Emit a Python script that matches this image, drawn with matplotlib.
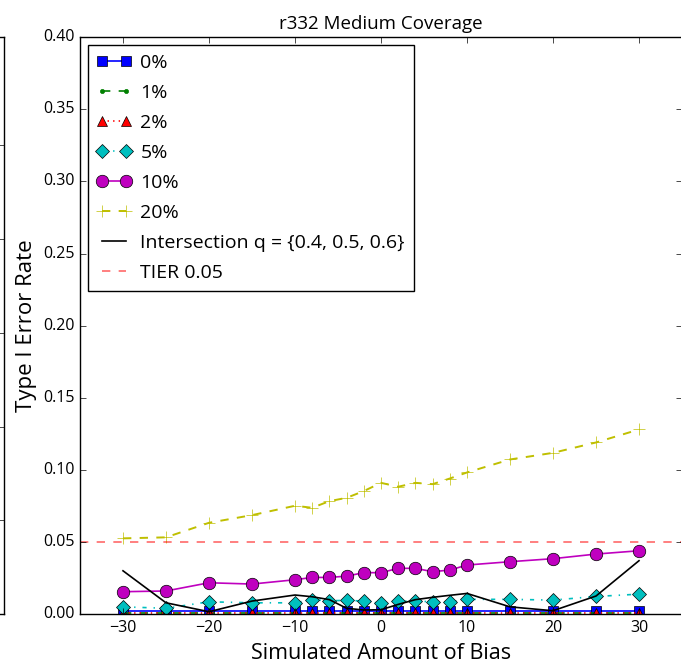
import matplotlib
matplotlib.use("Agg")
import matplotlib.pyplot as plt

plt.style.use("classic")
plt.rcParams["font.family"] = ["Open Sans", "DejaVu Sans"]

# Simulated bias levels
bias = [-30, -25, -20, -15, -10, -8, -6, -4, -2, 0, 2, 4, 6, 8, 10, 15, 20, 25, 30]

# Type I error rate per contamination level
err_0 = [0.002, 0.002, 0.002, 0.002, 0.002, 0.002, 0.002, 0.002, 0.002, 0.002,
         0.002, 0.002, 0.002, 0.002, 0.002, 0.002, 0.002, 0.002, 0.002]
err_1 = [0.0005, 0.0005, 0.0005, 0.0005, 0.0005, 0.0005, 0.0005, 0.0005, 0.0005, 0.0005,
         0.0005, 0.0005, 0.0005, 0.0005, 0.0005, 0.0005, 0.0005, 0.0005, 0.0005]
err_2 = [0.001, 0.001, 0.001, 0.001, 0.001, 0.001, 0.001, 0.001, 0.001, 0.001,
         0.001, 0.001, 0.001, 0.001, 0.001, 0.001, 0.001, 0.001, 0.001]
err_5 = [0.005, 0.004, 0.0085, 0.0078, 0.0078, 0.0100, 0.0092, 0.0095, 0.0090, 0.0074,
         0.0090, 0.0090, 0.0085, 0.0085, 0.0102, 0.0102, 0.0097, 0.0122, 0.0138]
err_10 = [0.0155, 0.016, 0.0217, 0.0208, 0.0238, 0.0254, 0.0254, 0.0263, 0.0287, 0.0287,
          0.0317, 0.0317, 0.0294, 0.0305, 0.034, 0.0363, 0.0384, 0.0416, 0.0439]
err_20 = [0.0525, 0.0532, 0.0633, 0.0686, 0.0751, 0.0737, 0.0783, 0.0806, 0.0853, 0.091,
          0.0883, 0.091, 0.0901, 0.094, 0.0982, 0.1072, 0.1118, 0.119, 0.128]
err_inter = [0.030, 0.0078, 0.0016, 0.009, 0.0132, 0.012, 0.010, 0.004, 0.0028, 0.003,
             0.0067, 0.010, 0.0116, 0.013, 0.0143, 0.005, 0.0023, 0.0125, 0.037]
tier = 0.05

fig = plt.figure(figsize=(6.81, 6.66), dpi=100, facecolor="white")

# right edge of the neighbouring panel
ax0 = fig.add_axes([-0.5, 0.078, 0.5 + 4 / 681, 0.866])
ax0.set_ylim(0, 0.4)
ax0.set_xticks([])
ax0.set_yticks([0.0, 0.065, 0.13, 0.195, 0.26, 0.325])
ax0.set_yticklabels([])

ax = fig.add_axes([80 / 681, 0.078, 602 / 681, 0.866])
ax.plot(bias, err_0, "bs-", markersize=6.5, lw=1.2, label="0%")
ax.plot(bias, err_1, "g.--", markersize=6, lw=1.2, label="1%")
ax.plot(bias, err_2, "r^:", markersize=7, lw=1.2, label="2%")
ax.plot(bias, err_5, "cD-.", markersize=7.5, lw=1.2, label="5%")
ax.plot(bias, err_10, "mo-", markersize=9, lw=1.2, label="10%")
ax.plot(bias, err_20, "y+--", markersize=8, lw=1.4, label="20%")
ax.plot(bias, err_inter, "k-", lw=1.2, label="Intersection q = {0.4, 0.5, 0.6}")
ax.axhline(tier, color="r", linestyle="--", lw=1.4, alpha=0.5, label="TIER 0.05")

ax.set_xlim(-35, 35)
ax.set_ylim(0, 0.4)
ax.set_xticks([-30, -20, -10, 0, 10, 20, 30])
ax.set_yticks([0.0, 0.05, 0.10, 0.15, 0.20, 0.25, 0.30, 0.35, 0.40])
ax.set_yticklabels(["0.00", "0.05", "0.10", "0.15", "0.20", "0.25", "0.30", "0.35", "0.40"])
ax.tick_params(labelsize=11.5)
ax.set_title("r332 Medium Coverage", fontsize=13.5, pad=6)
ax.set_xlabel("Simulated Amount of Bias", fontsize=15.5)
ax.set_ylabel("Type I Error Rate", fontsize=16, labelpad=4)

ax.legend(loc="upper left", fontsize=14, numpoints=2, handlelength=1.8,
          handletextpad=0.45, labelspacing=0.62, borderaxespad=0.4, borderpad=0.45)

fig.savefig("out.png", dpi=100, facecolor="white")
